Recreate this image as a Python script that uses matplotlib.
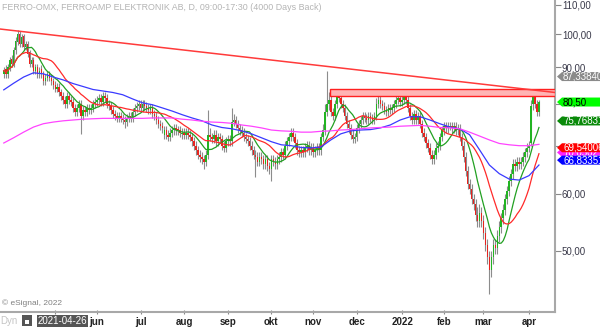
import numpy as np
import pandas as pd
import matplotlib
matplotlib.use("Agg")
import matplotlib.pyplot as plt
from matplotlib.patches import Rectangle, Polygon

plt.rcParams['font.family'] = ['Liberation Sans', 'DejaVu Sans']

# daily bars, FERRO-OMX
dates = pd.bdate_range('2021-03-26', '2022-04-08')

opens = [
    88, 89.5, 88, 90, 92.5, 91, 95, 97.5, 100, 97,
    99.5, 96, 97, 94.5, 91, 92, 89, 90, 88, 89.5,
    88, 86, 87, 88, 87, 86, 85, 84, 84.5, 83,
    82, 81, 80, 82, 81, 80.5, 79, 78, 79, 80,
    77, 78.5, 78, 79, 78.5, 79, 80, 80.5, 81, 81.5,
    80.5, 82, 81.5, 80, 79.5, 78.5, 77.5, 77, 76.5, 77,
    76.5, 76, 75.5, 76.5, 77, 76.5, 78, 79, 79.5, 80,
    79, 80, 79.5, 79, 78.5, 79, 77.5, 77, 76, 75,
    74.5, 72.5, 73.5, 72.5, 72, 73, 73.5, 74, 73.8, 73.5,
    72.7, 73, 72.5, 73, 72.5, 72, 71, 70, 69, 68,
    67.5, 67, 66.5, 68, 72.5, 72, 71.5, 72.5, 71, 72,
    71.5, 70, 69.5, 71, 71.5, 71, 75.5, 76, 75, 74,
    73.5, 73, 72, 71.5, 71, 70, 69, 68, 67.5, 66.5,
    67.5, 67, 66, 67, 65.5, 65, 67, 66.5, 66, 67,
    67.5, 68.5, 68, 70, 71, 72, 73, 72, 70.5, 69,
    68.5, 69, 68.5, 69.5, 70, 69, 69.5, 68.5, 69, 69.5,
    69, 72, 73.5, 78, 80, 81, 78, 77, 80, 82.5,
    81.5, 80, 79, 77, 75, 74, 72.5, 71.5, 72, 74,
    75, 76, 77, 76.5, 76, 77, 76.5, 76, 77, 80,
    81, 80, 79.5, 78.5, 78, 79, 78.5, 79, 80, 81,
    81.5, 80.5, 81, 82, 81, 79, 77, 76, 77.5, 76,
    77, 75, 73, 72, 70.5, 69.5, 68, 67, 68, 69.5,
    70, 72, 73.5, 74.5, 74, 74.2, 74.5, 74, 74.5, 73.5,
    74, 72, 70, 67.5, 64.5, 62, 61, 59, 58, 56,
    55, 56.5, 55, 53, 51, 49, 47, 49, 51, 50.5,
    52.5, 54, 55.5, 57, 59, 60.5, 62.5, 64, 66, 65.5,
    66.5, 66, 66.5, 67.5, 68.5, 69.5, 70.5, 80, 82, 80,
    78]
highs = [
    90, 90.5, 91, 93, 93.5, 96, 99, 101.5, 101, 100,
    100, 98, 98, 95, 93, 93, 91, 91, 90, 90.5,
    89, 88, 89, 89, 88, 87, 86, 85.5, 85.5, 84,
    83, 82, 83, 83, 82, 81.5, 80, 80, 81, 81,
    79.5, 79.5, 80, 80, 80, 81, 81.5, 82, 82.5, 82.5,
    83, 83, 82.5, 81, 80.5, 79.5, 78.5, 78, 78, 78,
    77.5, 77, 77.5, 78, 78, 79, 80, 80.5, 81, 81,
    81, 81, 80.5, 80, 80, 80, 78.5, 78, 77, 76,
    75.5, 74.5, 74.5, 73.5, 74, 74.5, 75, 75, 74.5, 74.5,
    74, 74, 74, 74, 73.5, 73, 72, 71, 70, 69,
    68.5, 68, 69, 78.5, 74, 73, 73.5, 73.5, 73, 73,
    72.5, 71, 72, 72.5, 72.5, 79, 77.5, 77, 76, 75,
    74.5, 74, 73, 72.5, 72, 71, 70, 69, 68.5, 68.5,
    68.5, 68, 68, 68, 66.5, 68, 68, 67.5, 68, 68.5,
    69.5, 69.5, 71, 72, 73, 74, 74, 73, 71.5, 70,
    70, 70, 70.5, 71, 71, 70.5, 70.5, 70, 70.5, 70.5,
    73, 75, 80, 89, 83, 82, 79, 81, 84, 83.5,
    82.5, 81, 80, 78, 76, 75, 73.5, 73, 75, 76,
    77, 78, 78, 77.5, 78, 78, 77.5, 78, 81.5, 82.5,
    82, 81, 80.5, 79.5, 80, 80, 80, 81, 82, 82.5,
    82.5, 82, 83.5, 83.5, 82, 80, 78, 78.5, 78.5, 78,
    78, 76, 74, 73, 71.5, 70.5, 69, 69, 70.5, 71,
    73, 74.5, 75.5, 75.5, 75.5, 75.5, 75.5, 75.5, 75.5, 75,
    75, 73, 71, 68.5, 65.5, 63, 62, 60, 59, 57.5,
    58, 57.5, 56, 54, 52, 50, 50, 52, 52, 53.5,
    55, 56.5, 58, 60, 61.5, 63.5, 65, 67, 67, 67.5,
    67.5, 67.5, 68.5, 69.5, 70.5, 71, 81, 84, 82.5, 81,
    81]
lows = [
    87, 87, 87, 89, 90, 90, 94, 96.5, 96, 96,
    95, 95, 93, 90, 90, 88, 88, 87, 87, 87,
    85, 85, 86, 86, 85, 84, 83, 83, 82, 81,
    80, 79, 79, 80, 79.5, 78, 77, 77, 78, 72.6,
    76, 77, 77, 77.5, 77.5, 78, 79, 79.5, 80, 79.5,
    79.5, 80.5, 79, 78.5, 77.5, 76.5, 76, 75.5, 75.5, 75.5,
    75, 74, 74.5, 75.5, 75.5, 75.5, 77, 78, 78.5, 78,
    78, 78.5, 78, 77.5, 77.5, 76.5, 76, 75, 74, 73.5,
    73, 71.5, 71.5, 71, 71, 72, 72.5, 72.5, 72.5, 72,
    71.5, 71.5, 71.5, 71.5, 71, 70, 69, 68, 67, 66.5,
    66, 65, 65.5, 67, 71, 70.5, 70.5, 70, 70, 70.5,
    69, 68.5, 68.5, 70, 70, 70, 74.5, 74, 73, 72.5,
    72, 71, 70.5, 70, 69, 68, 67, 63.3, 65.5, 65.5,
    66, 65, 65, 64.5, 64, 62.5, 65.5, 65, 65, 66,
    66.5, 67, 67, 69, 70, 71, 71, 69.5, 68, 67.5,
    67.5, 67.5, 67.5, 68.5, 68, 68, 67.5, 67.5, 68, 68,
    68, 71, 72.5, 77, 78.5, 77, 76, 76, 79, 80.5,
    79, 78, 76, 74, 73, 71.5, 70.5, 70.5, 71, 73,
    74, 75, 75.5, 75, 75, 75.5, 75, 75, 76, 79,
    79, 78.5, 77.5, 77, 77, 77.5, 77.5, 78, 79, 80,
    79.5, 79.5, 80, 80, 78, 76, 75, 75, 75, 75,
    74, 72, 71, 69.5, 68.5, 67, 66, 66, 67, 68.5,
    69, 71, 72.5, 73, 73, 73.5, 73, 73, 72.5, 72.5,
    71, 69, 66.5, 63.5, 61, 60, 58, 57, 55, 54,
    54, 54, 52, 50, 48, 43.6, 46, 48, 49.5, 49.5,
    51.5, 53, 54.5, 56, 58, 59.5, 61.5, 63, 64.5, 64.5,
    65, 65, 65.5, 66.5, 67.5, 68.5, 70, 78.5, 79, 77,
    77]
closes = [
    89, 88, 90, 92, 91, 95, 98, 100, 97, 99,
    96, 97, 94, 91, 92, 89, 90, 88, 89, 88,
    86, 87, 88, 87, 86, 85, 84, 84.5, 83, 82,
    81, 80, 82, 81, 80.5, 79, 78, 79, 80, 77,
    78.5, 78, 79, 78.5, 79, 80, 80.5, 81, 81.5, 80.5,
    82, 81.5, 80, 79.5, 78.5, 77.5, 77, 76.5, 77, 76.5,
    76, 75.5, 76.5, 77, 76.5, 78, 79, 79.5, 80, 79,
    80, 79.5, 79, 78.5, 79, 77.5, 77, 76, 75, 74.5,
    74, 73.5, 72.5, 72, 73, 73.5, 74, 73.5, 73.5, 73,
    73, 72.5, 73, 72.5, 72, 71, 70, 69, 68, 67.5,
    67, 66.5, 68, 72.5, 72, 71.5, 72.5, 71, 72, 71.5,
    70, 69.5, 71, 71.5, 71, 75.5, 76, 75, 74, 73.5,
    73, 72, 71.5, 71, 70, 69, 68, 67.5, 66.5, 67.5,
    67, 66, 67, 65.5, 65, 67, 66.5, 66, 67, 67.5,
    68.5, 68, 70, 71, 72, 73, 72, 70.5, 69, 68.5,
    69, 68.5, 69.5, 70, 69, 69.5, 68.5, 69, 69.5, 69,
    72, 73.5, 78, 80, 81, 78, 77, 80, 82.5, 81.5,
    80, 79, 77, 75, 74, 72.5, 71.5, 72, 74, 75,
    76, 77, 76.5, 76, 77, 76.5, 76, 77, 80, 81,
    80, 79.5, 78.5, 78, 79, 78.5, 79, 80, 81, 81.5,
    80.5, 81, 82, 81, 79, 77, 76, 77.5, 76, 77,
    75, 73, 72, 70.5, 69.5, 68, 67, 68, 69.5, 70,
    72, 73.5, 74.5, 74, 74.5, 74.5, 74, 74.5, 73.5, 74,
    72, 70, 67.5, 64.5, 62, 61, 59, 58, 56, 55,
    56.5, 55, 53, 51, 49, 47, 49, 51, 50.5, 52.5,
    54, 55.5, 57, 59, 60.5, 62.5, 64, 66, 65.5, 66.5,
    66, 66.5, 67.5, 68.5, 69.5, 70, 79.5, 82, 80, 78,
    80.5]

# slow averages every 5th bar
ma_step = 5
ma50 = [83.7, 85.5, 87.2, 88.4, 88.1, 87.2, 86.4, 85.4, 84.6, 83.8,
        83.4, 83.0, 82.4, 81.3, 80.3, 79.8, 79.0, 78.2, 77.3, 76.5,
        75.8, 74.8, 74.2, 73.9, 73.4, 72.7, 71.8, 70.9, 70.2, 70.0,
        69.6, 69.5, 69.7, 71.3, 72.7, 73.4, 73.6, 73.7, 74.1, 74.8,
        76.0, 76.8, 76.8, 76.0, 75.1, 74.3, 73.9, 72.5, 69.1, 65.8,
        64.0, 62.9, 62.7, 63.6, 65.8]
ma200 = [70.6, 71.8, 73.1, 74.3, 75.1, 75.5, 75.8, 76.0, 76.2, 76.3,
         76.4, 76.4, 76.4, 76.4, 76.4, 76.5, 76.5, 76.5, 76.2, 76.0,
         75.7, 75.5, 75.4, 75.2, 74.8, 74.5, 74.1, 73.6, 73.4, 73.3,
         73.1, 73.1, 73.3, 73.4, 73.6, 73.7, 73.9, 74.1, 74.2, 74.3,
         74.5, 74.6, 74.7, 74.5, 74.2, 74.1, 73.9, 73.1, 72.2, 71.3,
         70.5, 70.2, 70.0, 70.0, 70.3]

# trend line ends and resistance zone
trend_prices = [101.7, 83.0]
zone_start = '2021-11-12'
zone_low, zone_high = 82.0, 84.0

# first label (maj) sits under the date box
month_labels = ['', 'jun', 'jul', 'aug', 'sep', 'okt', 'nov', 'dec',
                '2022', 'feb', 'mar', 'apr']

tag_values = [87.3384, 80.50, 75.76831, 70.05, 69.54006, 66.83351]
tag_texts = ['87,338400', '80,50', '75,768310', '70,050211', '69,540061', '66,833515']
tag_colors = ['#8a8a8a', '#00ff00', '#0a8a0a', '#ff22ff', '#ff0000', '#0000ff']
tag_text_colors = ['white', 'black', 'white', 'white', 'white', 'white']
tag_nudge = [0, 0, 0, -7, 0, 0]

W, H = 600, 327
fig = plt.figure(figsize=(W / 100, H / 100), dpi=100)
ax = fig.add_axes([0, 15 / H, 555 / W, 312 / H])

df = pd.DataFrame({'open': opens, 'high': highs, 'low': lows, 'close': closes}, index=dates)
x = np.arange(len(df))
ma10 = df['close'].rolling(10, min_periods=1).mean()
ma20 = df['close'].rolling(20, min_periods=1).mean()

# candles
ax.vlines(x, df['low'], df['high'], color='#8c8c8c', lw=0.8, zorder=2)
up = df['close'] >= df['open']
body_lo = np.minimum(df['open'], df['close'])
body_h = np.abs(df['close'] - df['open']).clip(lower=0.15)
ax.bar(x[up], body_h[up], bottom=body_lo[up], width=0.8, color='#22b422', zorder=3)
ax.bar(x[~up], body_h[~up], bottom=body_lo[~up], width=0.8, color='#e8231e', zorder=3)

# moving averages
ax.plot(x, ma10, color='#22a022', lw=0.9, zorder=4)
ax.plot(x, ma20, color='#ff2a2a', lw=0.9, zorder=4)
xs = np.arange(0, len(df), ma_step)
ax.plot(xs, ma50, color='#3a3aff', lw=0.9, zorder=4)
ax.plot(xs, ma200, color='#ff44ff', lw=0.9, zorder=4)

xmin, xmax = -1.9, 278.1
ax.set_xlim(xmin, xmax)
ax.set_yscale('log')
ax.set_ylim(41.1, 111.6)

# resistance zone and trend line
z0 = dates.get_loc(pd.Timestamp(zone_start)) - 0.5
ax.add_patch(Rectangle((z0, zone_low), xmax - z0, zone_high - zone_low,
                       facecolor='#ffb4b4', edgecolor='#ff2020', lw=1.0, zorder=5))
ax.plot([xmin, xmax], trend_prices, color='#ff3a3a', lw=1.1, zorder=6)

# axes styling
for s in ['left', 'top']:
    ax.spines[s].set_visible(False)
for s in ['right', 'bottom']:
    ax.spines[s].set_color('#a8a8a8')
    ax.spines[s].set_linewidth(1.5)

ax.yaxis.tick_right()
ax.yaxis.set_minor_locator(matplotlib.ticker.NullLocator())
ax.set_yticks([50, 60, 70, 80, 90, 100, 110])
ax.set_yticklabels(['50,00', '60,00', '', '', '90,00', '100,00', '110,00'])
ax.tick_params(axis='y', length=4, width=0.8, color='#888888', pad=1,
               labelsize=7, labelcolor='#3a3a4a')

month_starts = [i for i in range(1, len(dates)) if dates[i].month != dates[i - 1].month]
month_starts = month_starts[1:]
ax.set_xticks(month_starts)
ax.set_xticklabels(month_labels, fontweight='bold')
ax.tick_params(axis='x', length=3, width=0.8, color='#888888', direction='inout',
               pad=2, labelsize=7, labelcolor='#222222')

# header / footer text
fig.text(2 / W, 1 - 8 / H, 'FERRO-OMX, FERROAMP ELEKTRONIK AB, D, 09:00-17:30 (4000 Days Back)',
         fontsize=6.4, color='#b4b4b4', va='center', ha='left')
fig.text(2 / W, 1 - 303 / H, '\u00a9 eSignal, 2022', fontsize=6, color='#808080',
         va='center', ha='left')
fig.text(0 / W, 1 - 321 / H, 'Dyn', fontsize=7, color='#c4c4c4', va='center', ha='left')
fig.patches.append(Rectangle((22 / W, 1 - 326 / H), 10 / W, 11 / H, transform=fig.transFigure,
                             facecolor='#555555', edgecolor='none', zorder=5))
fig.patches.append(Rectangle((25 / W, 1 - 324 / H), 4 / W, 4 / H, transform=fig.transFigure,
                             facecolor='white', edgecolor='none', zorder=6))
fig.patches.append(Rectangle((37 / W, 0), 51 / W, 12 / H, transform=fig.transFigure,
                             facecolor='#555555', edgecolor='none', zorder=5))
fig.text(62 / W, 1 - 321 / H, '2021-04-26', fontsize=7, color='white', va='center',
         ha='center', zorder=7)

# price tags on the right, later tags sit on top of earlier ones
for k, (v, t, c, tc, dy) in enumerate(zip(tag_values, tag_texts, tag_colors,
                                           tag_text_colors, tag_nudge)):
    yp = ax.transData.transform((0, v))[1] / H + dy / H
    hh = 4.5 / H
    poly = Polygon([(557 / W, yp), (562 / W, yp + hh), (1.01, yp + hh),
                    (1.01, yp - hh), (562 / W, yp - hh)],
                   closed=True, transform=fig.transFigure, facecolor=c,
                   edgecolor='none', zorder=10 + 2 * k)
    fig.patches.append(poly)
    fig.text(563 / W, yp, t, fontsize=7, color=tc, va='center', ha='left',
             zorder=11 + 2 * k, clip_on=False)

fig.savefig('out.png', dpi=100)
